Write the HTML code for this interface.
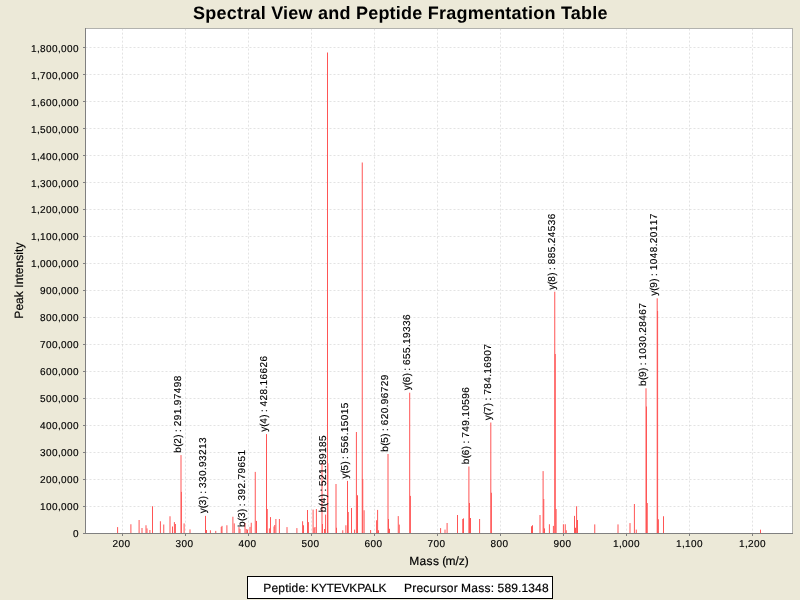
<!DOCTYPE html>
<html lang="en">
<head>
<meta charset="utf-8">
<title>Spectral View and Peptide Fragmentation Table</title>
<style>
html,body{margin:0;padding:0;background:#ece9d8;}
body{width:800px;height:600px;overflow:hidden;}
svg{display:block;font-family:"Liberation Sans",sans-serif;text-rendering:geometricPrecision;}
.t10{font-size:10px;fill:#000;stroke:#000;stroke-width:0.15px;}
.t12{font-size:12px;fill:#000;stroke:#000;stroke-width:0.18px;}
.title{font-size:18px;font-weight:bold;fill:#000;}
.grid line{stroke:#c0c0c0;stroke-opacity:0.45;stroke-width:1;stroke-dasharray:2 2;}
.pk line{stroke:#ff5555;stroke-width:1;}
.ax{stroke:#808080;stroke-width:1;shape-rendering:crispEdges;}
</style>
</head>
<body>
<svg width="800" height="600" viewBox="0 0 800 600">
<rect x="0" y="0" width="800" height="600" fill="#ece9d8"/>
<text class="title" x="400.3" y="19" text-anchor="middle" textLength="414.5" lengthAdjust="spacing">Spectral View and Peptide Fragmentation Table</text>
<rect x="85.5" y="28.5" width="707" height="505" fill="#fff" stroke="#b2b2ae" stroke-width="1" shape-rendering="crispEdges"/>
<g class="grid">
<line x1="122.5" y1="28.6" x2="122.5" y2="533"/>
<line x1="185.5" y1="28.6" x2="185.5" y2="533"/>
<line x1="248.5" y1="28.6" x2="248.5" y2="533"/>
<line x1="311.5" y1="28.6" x2="311.5" y2="533"/>
<line x1="374.5" y1="28.6" x2="374.5" y2="533"/>
<line x1="437.5" y1="28.6" x2="437.5" y2="533"/>
<line x1="500.5" y1="28.6" x2="500.5" y2="533"/>
<line x1="563.5" y1="28.6" x2="563.5" y2="533"/>
<line x1="626.5" y1="28.6" x2="626.5" y2="533"/>
<line x1="689.5" y1="28.6" x2="689.5" y2="533"/>
<line x1="752.5" y1="28.6" x2="752.5" y2="533"/>
<line x1="85.5" y1="506.5" x2="792" y2="506.5"/>
<line x1="85.5" y1="479.5" x2="792" y2="479.5"/>
<line x1="85.5" y1="452.5" x2="792" y2="452.5"/>
<line x1="85.5" y1="425.5" x2="792" y2="425.5"/>
<line x1="85.5" y1="398.5" x2="792" y2="398.5"/>
<line x1="85.5" y1="371.5" x2="792" y2="371.5"/>
<line x1="85.5" y1="344.5" x2="792" y2="344.5"/>
<line x1="85.5" y1="317.5" x2="792" y2="317.5"/>
<line x1="85.5" y1="290.5" x2="792" y2="290.5"/>
<line x1="85.5" y1="263.5" x2="792" y2="263.5"/>
<line x1="85.5" y1="236.5" x2="792" y2="236.5"/>
<line x1="85.5" y1="209.5" x2="792" y2="209.5"/>
<line x1="85.5" y1="182.5" x2="792" y2="182.5"/>
<line x1="85.5" y1="155.5" x2="792" y2="155.5"/>
<line x1="85.5" y1="128.5" x2="792" y2="128.5"/>
<line x1="85.5" y1="101.5" x2="792" y2="101.5"/>
<line x1="85.5" y1="74.5" x2="792" y2="74.5"/>
<line x1="85.5" y1="47.5" x2="792" y2="47.5"/>
</g>
<g class="pk">
<line x1="117.60" y1="533" x2="117.60" y2="527.10"/>
<line x1="130.90" y1="533" x2="130.90" y2="524.25"/>
<line x1="139.10" y1="533" x2="139.10" y2="520.00"/>
<line x1="142.00" y1="533" x2="142.00" y2="528.00"/>
<line x1="146.00" y1="533" x2="146.00" y2="525.25"/>
<line x1="147.00" y1="533" x2="147.00" y2="528.40"/>
<line x1="149.90" y1="533" x2="149.90" y2="530.00"/>
<line x1="152.50" y1="533" x2="152.50" y2="506.25"/>
<line x1="160.40" y1="533" x2="160.40" y2="521.25"/>
<line x1="163.75" y1="533" x2="163.75" y2="524.50"/>
<line x1="170.00" y1="533" x2="170.00" y2="516.25"/>
<line x1="172.50" y1="533" x2="172.50" y2="526.50"/>
<line x1="174.40" y1="533" x2="174.40" y2="522.10"/>
<line x1="175.40" y1="533" x2="175.40" y2="524.00"/>
<line x1="181.00" y1="533" x2="181.00" y2="455.10"/>
<line x1="181.40" y1="533" x2="181.40" y2="491.90"/>
<line x1="184.10" y1="533" x2="184.10" y2="523.40"/>
<line x1="190.00" y1="533" x2="190.00" y2="529.40"/>
<line x1="205.50" y1="533" x2="205.50" y2="515.90"/>
<line x1="206.50" y1="533" x2="206.50" y2="530.00"/>
<line x1="210.40" y1="533" x2="210.40" y2="530.25"/>
<line x1="215.75" y1="533" x2="215.75" y2="530.90"/>
<line x1="221.25" y1="533" x2="221.25" y2="527.00"/>
<line x1="222.00" y1="533" x2="222.00" y2="525.90"/>
<line x1="226.90" y1="533" x2="226.90" y2="525.25"/>
<line x1="232.90" y1="533" x2="232.90" y2="516.75"/>
<line x1="234.25" y1="533" x2="234.25" y2="523.40"/>
<line x1="239.00" y1="533" x2="239.00" y2="527.10"/>
<line x1="240.00" y1="533" x2="240.00" y2="529.00"/>
<line x1="245.00" y1="533" x2="245.00" y2="523.00"/>
<line x1="246.25" y1="533" x2="246.25" y2="529.00"/>
<line x1="247.50" y1="533" x2="247.50" y2="529.60"/>
<line x1="250.00" y1="533" x2="250.00" y2="526.90"/>
<line x1="251.25" y1="533" x2="251.25" y2="522.75"/>
<line x1="255.25" y1="533" x2="255.25" y2="471.90"/>
<line x1="256.50" y1="533" x2="256.50" y2="520.90"/>
<line x1="266.50" y1="533" x2="266.50" y2="434.10"/>
<line x1="267.25" y1="533" x2="267.25" y2="509.00"/>
<line x1="269.40" y1="533" x2="269.40" y2="528.40"/>
<line x1="270.50" y1="533" x2="270.50" y2="517.10"/>
<line x1="274.00" y1="533" x2="274.00" y2="526.50"/>
<line x1="274.75" y1="533" x2="274.75" y2="525.00"/>
<line x1="275.90" y1="533" x2="275.90" y2="519.00"/>
<line x1="279.40" y1="533" x2="279.40" y2="519.00"/>
<line x1="287.00" y1="533" x2="287.00" y2="527.10"/>
<line x1="296.90" y1="533" x2="296.90" y2="528.10"/>
<line x1="302.60" y1="533" x2="302.60" y2="521.25"/>
<line x1="303.50" y1="533" x2="303.50" y2="525.25"/>
<line x1="307.50" y1="533" x2="307.50" y2="510.00"/>
<line x1="308.40" y1="533" x2="308.40" y2="522.10"/>
<line x1="313.10" y1="533" x2="313.10" y2="509.60"/>
<line x1="314.10" y1="533" x2="314.10" y2="527.75"/>
<line x1="315.00" y1="533" x2="315.00" y2="527.00"/>
<line x1="316.40" y1="533" x2="316.40" y2="509.00"/>
<line x1="322.00" y1="533" x2="322.00" y2="463.25"/>
<line x1="322.50" y1="533" x2="322.50" y2="524.00"/>
<line x1="324.50" y1="533" x2="324.50" y2="529.00"/>
<line x1="325.60" y1="533" x2="325.60" y2="514.60"/>
<line x1="327.50" y1="533" x2="327.50" y2="52.50"/>
<line x1="327.90" y1="533" x2="327.90" y2="463.40"/>
<line x1="336.00" y1="533" x2="336.00" y2="484.00"/>
<line x1="336.50" y1="533" x2="336.50" y2="527.75"/>
<line x1="342.75" y1="533" x2="342.75" y2="530.25"/>
<line x1="345.90" y1="533" x2="345.90" y2="525.25"/>
<line x1="347.50" y1="533" x2="347.50" y2="480.90"/>
<line x1="348.25" y1="533" x2="348.25" y2="512.00"/>
<line x1="351.50" y1="533" x2="351.50" y2="508.00"/>
<line x1="354.60" y1="533" x2="354.60" y2="529.60"/>
<line x1="356.40" y1="533" x2="356.40" y2="432.00"/>
<line x1="357.50" y1="533" x2="357.50" y2="495.25"/>
<line x1="362.25" y1="533" x2="362.25" y2="162.50"/>
<line x1="362.75" y1="533" x2="362.75" y2="479.00"/>
<line x1="364.10" y1="533" x2="364.10" y2="510.25"/>
<line x1="370.60" y1="533" x2="370.60" y2="530.00"/>
<line x1="376.60" y1="533" x2="376.60" y2="520.25"/>
<line x1="377.60" y1="533" x2="377.60" y2="509.90"/>
<line x1="378.50" y1="533" x2="378.50" y2="530.25"/>
<line x1="388.00" y1="533" x2="388.00" y2="454.00"/>
<line x1="388.50" y1="533" x2="388.50" y2="519.00"/>
<line x1="389.50" y1="533" x2="389.50" y2="528.75"/>
<line x1="398.25" y1="533" x2="398.25" y2="516.10"/>
<line x1="399.25" y1="533" x2="399.25" y2="524.60"/>
<line x1="409.70" y1="533" x2="409.70" y2="392.70"/>
<line x1="410.40" y1="533" x2="410.40" y2="495.90"/>
<line x1="440.60" y1="533" x2="440.60" y2="528.10"/>
<line x1="445.00" y1="533" x2="445.00" y2="529.60"/>
<line x1="447.10" y1="533" x2="447.10" y2="523.00"/>
<line x1="457.50" y1="533" x2="457.50" y2="515.00"/>
<line x1="462.75" y1="533" x2="462.75" y2="519.00"/>
<line x1="463.50" y1="533" x2="463.50" y2="518.40"/>
<line x1="468.90" y1="533" x2="468.90" y2="466.50"/>
<line x1="469.50" y1="533" x2="469.50" y2="503.00"/>
<line x1="470.50" y1="533" x2="470.50" y2="518.00"/>
<line x1="479.60" y1="533" x2="479.60" y2="519.00"/>
<line x1="490.80" y1="533" x2="490.80" y2="422.50"/>
<line x1="491.40" y1="533" x2="491.40" y2="492.75"/>
<line x1="531.50" y1="533" x2="531.50" y2="526.25"/>
<line x1="532.50" y1="533" x2="532.50" y2="525.25"/>
<line x1="540.00" y1="533" x2="540.00" y2="515.00"/>
<line x1="543.10" y1="533" x2="543.10" y2="471.10"/>
<line x1="543.75" y1="533" x2="543.75" y2="499.00"/>
<line x1="544.50" y1="533" x2="544.50" y2="528.40"/>
<line x1="549.40" y1="533" x2="549.40" y2="524.25"/>
<line x1="553.40" y1="533" x2="553.40" y2="525.90"/>
<line x1="554.75" y1="533" x2="554.75" y2="291.70"/>
<line x1="555.25" y1="533" x2="555.25" y2="354.00"/>
<line x1="556.10" y1="533" x2="556.10" y2="509.00"/>
<line x1="563.40" y1="533" x2="563.40" y2="524.25"/>
<line x1="565.25" y1="533" x2="565.25" y2="524.25"/>
<line x1="566.25" y1="533" x2="566.25" y2="530.25"/>
<line x1="574.50" y1="533" x2="574.50" y2="515.90"/>
<line x1="575.50" y1="533" x2="575.50" y2="527.75"/>
<line x1="576.60" y1="533" x2="576.60" y2="506.25"/>
<line x1="577.50" y1="533" x2="577.50" y2="520.00"/>
<line x1="594.75" y1="533" x2="594.75" y2="524.40"/>
<line x1="618.00" y1="533" x2="618.00" y2="524.40"/>
<line x1="630.00" y1="533" x2="630.00" y2="523.10"/>
<line x1="634.40" y1="533" x2="634.40" y2="504.00"/>
<line x1="636.25" y1="533" x2="636.25" y2="529.60"/>
<line x1="646.00" y1="533" x2="646.00" y2="388.30"/>
<line x1="646.50" y1="533" x2="646.50" y2="406.50"/>
<line x1="647.25" y1="533" x2="647.25" y2="503.00"/>
<line x1="657.20" y1="533" x2="657.20" y2="298.30"/>
<line x1="657.60" y1="533" x2="657.60" y2="311.00"/>
<line x1="658.40" y1="533" x2="658.40" y2="519.25"/>
<line x1="663.50" y1="533" x2="663.50" y2="516.25"/>
<line x1="760.50" y1="533" x2="760.50" y2="529.70"/>
</g>
<line class="ax" x1="85.5" y1="28" x2="85.5" y2="534"/>
<line class="ax" x1="85" y1="533.5" x2="793" y2="533.5"/>
<g class="ax">
<line x1="122.5" y1="534" x2="122.5" y2="536"/>
<line x1="185.5" y1="534" x2="185.5" y2="536"/>
<line x1="248.5" y1="534" x2="248.5" y2="536"/>
<line x1="311.5" y1="534" x2="311.5" y2="536"/>
<line x1="374.5" y1="534" x2="374.5" y2="536"/>
<line x1="437.5" y1="534" x2="437.5" y2="536"/>
<line x1="500.5" y1="534" x2="500.5" y2="536"/>
<line x1="563.5" y1="534" x2="563.5" y2="536"/>
<line x1="626.5" y1="534" x2="626.5" y2="536"/>
<line x1="689.5" y1="534" x2="689.5" y2="536"/>
<line x1="752.5" y1="534" x2="752.5" y2="536"/>
<line x1="83" y1="533.5" x2="85" y2="533.5"/>
<line x1="83" y1="506.5" x2="85" y2="506.5"/>
<line x1="83" y1="479.5" x2="85" y2="479.5"/>
<line x1="83" y1="452.5" x2="85" y2="452.5"/>
<line x1="83" y1="425.5" x2="85" y2="425.5"/>
<line x1="83" y1="398.5" x2="85" y2="398.5"/>
<line x1="83" y1="371.5" x2="85" y2="371.5"/>
<line x1="83" y1="344.5" x2="85" y2="344.5"/>
<line x1="83" y1="317.5" x2="85" y2="317.5"/>
<line x1="83" y1="290.5" x2="85" y2="290.5"/>
<line x1="83" y1="263.5" x2="85" y2="263.5"/>
<line x1="83" y1="236.5" x2="85" y2="236.5"/>
<line x1="83" y1="209.5" x2="85" y2="209.5"/>
<line x1="83" y1="182.5" x2="85" y2="182.5"/>
<line x1="83" y1="155.5" x2="85" y2="155.5"/>
<line x1="83" y1="128.5" x2="85" y2="128.5"/>
<line x1="83" y1="101.5" x2="85" y2="101.5"/>
<line x1="83" y1="74.5" x2="85" y2="74.5"/>
<line x1="83" y1="47.5" x2="85" y2="47.5"/>
</g>
<g class="t10">
<text x="73" y="537.0">0</text>
<text x="40 46 52 58 61 67 73" y="510.0">100,000</text>
<text x="40 46 52 58 61 67 73" y="483.0">200,000</text>
<text x="40 46 52 58 61 67 73" y="456.0">300,000</text>
<text x="40 46 52 58 61 67 73" y="429.0">400,000</text>
<text x="40 46 52 58 61 67 73" y="402.0">500,000</text>
<text x="40 46 52 58 61 67 73" y="375.0">600,000</text>
<text x="40 46 52 58 61 67 73" y="348.0">700,000</text>
<text x="40 46 52 58 61 67 73" y="321.0">800,000</text>
<text x="40 46 52 58 61 67 73" y="294.0">900,000</text>
<text x="31 37 40 46 52 58 61 67 73" y="267.0">1,000,000</text>
<text x="31 37 40 46 52 58 61 67 73" y="240.0">1,100,000</text>
<text x="31 37 40 46 52 58 61 67 73" y="213.0">1,200,000</text>
<text x="31 37 40 46 52 58 61 67 73" y="187.0">1,300,000</text>
<text x="31 37 40 46 52 58 61 67 73" y="160.0">1,400,000</text>
<text x="31 37 40 46 52 58 61 67 73" y="133.0">1,500,000</text>
<text x="31 37 40 46 52 58 61 67 73" y="106.0">1,600,000</text>
<text x="31 37 40 46 52 58 61 67 73" y="79.0">1,700,000</text>
<text x="31 37 40 46 52 58 61 67 73" y="52.0">1,800,000</text>
</g>
<g class="t10">
<text x="112.5 118.5 124.5" y="547">200</text>
<text x="175.5 181.5 187.5" y="547">300</text>
<text x="238.5 244.5 250.5" y="547">400</text>
<text x="301.5 307.5 313.5" y="547">500</text>
<text x="364.5 370.5 376.5" y="547">600</text>
<text x="427.5 433.5 439.5" y="547">700</text>
<text x="490.5 496.5 502.5" y="547">800</text>
<text x="553.5 559.5 565.5" y="547">900</text>
<text x="613 619 622 628 634" y="547">1,000</text>
<text x="676 682 685 691 697" y="547">1,100</text>
<text x="739 745 748 754 760" y="547">1,200</text>
</g>
<text class="t12" x="409.3 419.6 426.5 433 439 442.3 445.6 455.5 458.7 464.7" y="565">Mass (m/z)</text>
<text class="t12" transform="translate(22.6,280.6) rotate(-90)" text-anchor="middle" textLength="76.2">Peak Intensity</text>
<g class="t10">
<text transform="translate(181.0,452.65) rotate(-90)" x="0 6 9 15 18 20.65 23.65 26.3 32.3 38.3 44.3 47.3 53.3 59.3 65.3 71.3">b(2) : 291.97498</text>
<text transform="translate(206.0,513.35) rotate(-90)" x="0 5 8 14 17 19.65 22.65 25.3 31.3 37.3 43.3 46.3 52.3 58.3 64.3 70.3">y(3) : 330.93213</text>
<text transform="translate(245.0,526.90) rotate(-90)" x="0 6 9 15 18 20.65 23.65 26.3 32.3 38.3 44.3 47.3 53.3 59.3 65.3 71.3">b(3) : 392.79651</text>
<text transform="translate(267.0,431.75) rotate(-90)" x="0 5 8 14 17 19.65 22.65 25.3 31.3 37.3 43.3 46.3 52.3 58.3 64.3 70.3">y(4) : 428.16626</text>
<text transform="translate(326.0,512.25) rotate(-90)" x="0 6 9 15 18 20.65 23.65 26.3 32.3 38.3 44.3 47.3 53.3 59.3 65.3 71.3">b(4) : 521.89185</text>
<text transform="translate(348.0,478.55) rotate(-90)" x="0 5 8 14 17 19.65 22.65 25.3 31.3 37.3 43.3 46.3 52.3 58.3 64.3 70.3">y(5) : 556.15015</text>
<text transform="translate(388.0,451.65) rotate(-90)" x="0 6 9 15 18 20.65 23.65 26.3 32.3 38.3 44.3 47.3 53.3 59.3 65.3 71.3">b(5) : 620.96729</text>
<text transform="translate(410.0,390.35) rotate(-90)" x="0 5 8 14 17 19.65 22.65 25.3 31.3 37.3 43.3 46.3 52.3 58.3 64.3 70.3">y(6) : 655.19336</text>
<text transform="translate(469.0,464.15) rotate(-90)" x="0 6 9 15 18 20.65 23.65 26.3 32.3 38.3 44.3 47.3 53.3 59.3 65.3 71.3">b(6) : 749.10596</text>
<text transform="translate(491.0,420.15) rotate(-90)" x="0 5 8 14 17 19.65 22.65 25.3 31.3 37.3 43.3 46.3 52.3 58.3 64.3 70.3">y(7) : 784.16907</text>
<text transform="translate(555.0,289.65) rotate(-90)" x="0 5 8 14 17 19.65 22.65 25.3 31.3 37.3 43.3 46.3 52.3 58.3 64.3 70.3">y(8) : 885.24536</text>
<text transform="translate(646.0,385.95) rotate(-90)" x="0 6 9 15 18 20.65 23.65 26.3 32.3 38.3 44.3 50.3 53.3 59.3 65.3 71.3 77.3">b(9) : 1030.28467</text>
<text transform="translate(657.0,295.65) rotate(-90)" x="0 5 8 14 17 19.65 22.65 25.3 31.3 37.3 43.3 49.3 52.3 58.3 64.3 70.3 76.3">y(9) : 1048.20117</text>
</g>
<rect x="247.5" y="576.5" width="305" height="22" fill="#fff" stroke="#000" stroke-width="1" shape-rendering="crispEdges"/>
<text class="t12" y="592"><tspan x="263.2" textLength="45.4">Peptide:</tspan> <tspan x="311" textLength="75.4">KYTEVKPALK</tspan></text>
<text class="t12" y="592"><tspan x="404.1" textLength="53.6">Precursor</tspan> <tspan x="461.1" textLength="33">Mass:</tspan> <tspan x="497.6" textLength="51">589.1348</tspan></text>
</svg>
</body>
</html>
